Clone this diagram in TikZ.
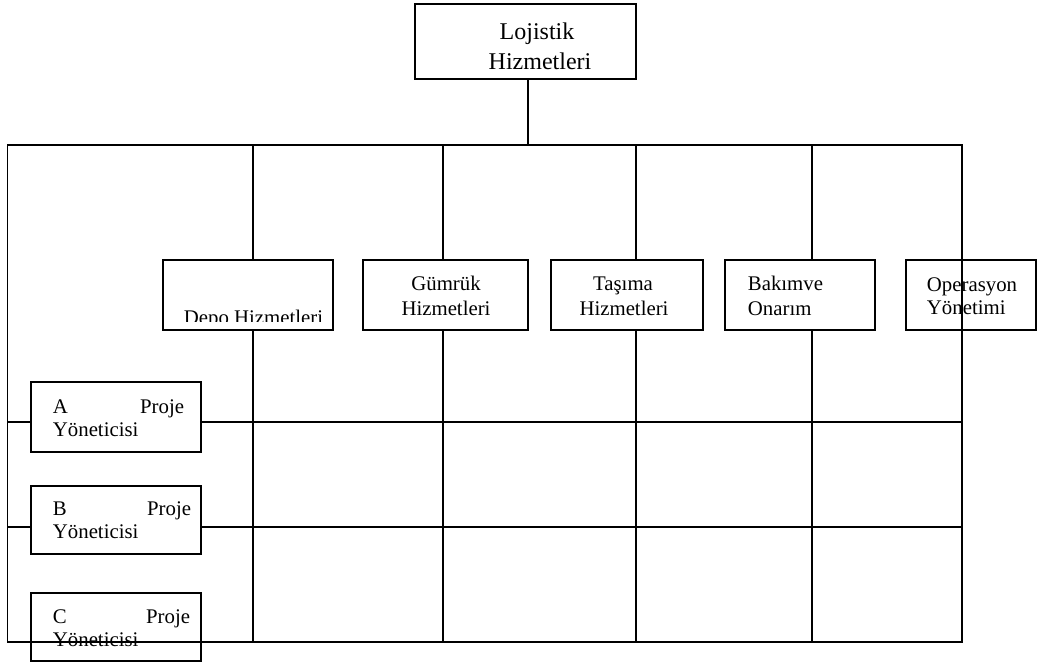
\documentclass[tikz,border=0pt]{standalone}
\usepackage{fontspec}
\setmainfont{Liberation Serif}
\begin{document}
\begin{tikzpicture}[x=0.75pt,y=-0.75pt,line width=1.4pt,
  box/.style={draw,fill=white,rectangle,inner sep=0pt},
  obox/.style={draw,rectangle,inner sep=0pt},
  big/.style={font=\fontsize{18}{21}\selectfont,inner sep=0pt},
  sm/.style={font=\fontsize{15.6}{17}\selectfont,inner sep=0pt}]
\useasboundingbox (0,0) rectangle (1037,662);
% C project box (behind the grid)
\node[box,minimum width=170*0.75pt,minimum height=68*0.75pt] (cbox) at (116,627) {};
\node[sm,anchor=base west] (ct1) at (52,623) {C};
\node[sm,anchor=base east] (ct2) at (191,623) {Proje};
\node[sm,anchor=base west] (ct3) at (52,646) {Yöneticisi};
% grid coordinates
\coordinate (tl) at (7.5,145);
\coordinate (tr) at (962,145);
\coordinate (bl) at (7.5,642);
\coordinate (br) at (962,642);
\foreach \n/\x in {v1/253,v2/443,v3/636,v4/812}{
  \coordinate (\n t) at (\x,145);
  \coordinate (\n b) at (\x,642);
}
\coordinate (hal) at (7.5,422); \coordinate (har) at (962,422);
\coordinate (hbl) at (7.5,527); \coordinate (hbr) at (962,527);
\coordinate (topc) at (528,145);
% grid lines
\draw (tl) -- (tr) -- (br) -- (bl) -- cycle;
\foreach \n in {v1,v2,v3,v4}{ \draw (\n t) -- (\n b); }
\draw (hal) -- (har);
\draw (hbl) -- (hbr);
% top box
\node[box,minimum width=221*0.75pt,minimum height=75*0.75pt] (top) at (525.5,41.5) {};
\draw (top.south -| topc) -- (topc);
\node[big,anchor=base] (tt1) at (537,39) {Lojistik};
\node[big,anchor=base] (tt2) at (540,69) {Hizmetleri};
% department boxes
\node[box,minimum width=170*0.75pt,minimum height=70*0.75pt] (depo) at (248,295) {};
\begin{scope}
  \clip (164,261) rectangle (332,321);
  \node[sm,anchor=base west] (dt) at (183,324.5) {Depo Hizmetleri};
\end{scope}
\node[box,minimum width=165*0.75pt,minimum height=70*0.75pt] (gum) at (445.5,295) {};
\node[sm,anchor=base] (gt1) at (446,290) {Gümrük};
\node[sm,anchor=base] (gt2) at (446,315) {Hizmetleri};
\node[box,minimum width=152*0.75pt,minimum height=70*0.75pt] (tas) at (627,295) {};
\node[sm,anchor=base] (tat1) at (623,290) {Taşıma};
\node[sm,anchor=base] (tat2) at (624,315) {Hizmetleri};
\node[box,minimum width=150*0.75pt,minimum height=70*0.75pt] (bak) at (800,295) {};
\node[sm,anchor=base west] (bt1) at (747,290) {Bakımve};
\node[sm,anchor=base west] (bt2) at (747,315) {Onarım};
\node[obox,minimum width=130*0.75pt,minimum height=70*0.75pt] (ops) at (971,295) {};
\node[sm,anchor=base west] (ot1) at (926,291) {Operasyon};
\node[sm,anchor=base west] (ot2) at (926,314) {Yönetimi};
% project boxes A and B
\node[box,minimum width=170*0.75pt,minimum height=70*0.75pt] (abox) at (116,417) {};
\node[sm,anchor=base west] (at1) at (52,413) {A};
\node[sm,anchor=base east] (at2) at (185,413) {Proje};
\node[sm,anchor=base west] (at3) at (52,436) {Yöneticisi};
\node[box,minimum width=170*0.75pt,minimum height=68*0.75pt] (bbox) at (116,520) {};
\node[sm,anchor=base west] (bt1p) at (52,515) {B};
\node[sm,anchor=base east] (bt2p) at (192,515) {Proje};
\node[sm,anchor=base west] (bt3p) at (52,538) {Yöneticisi};
\end{tikzpicture}
\end{document}
